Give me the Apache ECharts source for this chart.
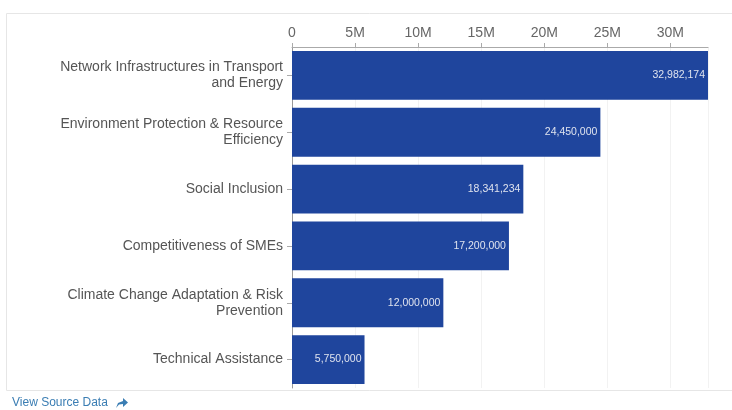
<!DOCTYPE html>
<html>
<head>
<meta charset="utf-8">
<script src="https://cdn.jsdelivr.net/npm/echarts@6/dist/echarts.min.js"></script>
<style>
  html, body { margin: 0; padding: 0; background: #fff; }
  #chart { width: 732px; height: 410px; }
</style>
</head>
<body>
<div id="chart"></div>
<script>
  // data
  const categories = [
    'Network Infrastructures in Transport\nand Energy',
    'Environment Protection & Resource\nEfficiency',
    'Social Inclusion',
    'Competitiveness of SMEs',
    'Climate Change Adaptation & Risk\nPrevention',
    'Technical Assistance'
  ];
  const amounts = [32982174, 24450000, 18341234, 17200000, 12000000, 5750000];

  const BAR = '#1f459d';
  const LABEL = '#555';
  const FONT = 'Liberation Sans, Arial, sans-serif';

  const chart = echarts.init(document.getElementById('chart'));
  chart.setOption({
    animation: false,
    grid: { left: 292, right: 24, top: 47, bottom: 22 },
    xAxis: {
      type: 'value',
      position: 'top',
      min: 0,
      max: 32982174,
      interval: 5000000,
      axisLine: { show: true, lineStyle: { color: '#aaa' } },
      axisTick: { show: true, length: 4, lineStyle: { color: '#aaa' } },
      axisLabel: {
        color: '#666',
        fontSize: 14,
        fontFamily: FONT,
        margin: 7,
        showMaxLabel: false,
        formatter: v => v === 0 ? '0' : (v / 1e6) + 'M'
      },
      splitLine: { show: true, lineStyle: { color: '#f2f2f2' } }
    },
    yAxis: {
      type: 'category',
      inverse: true,
      data: categories,
      axisLine: { show: true, lineStyle: { color: '#999' } },
      axisTick: { show: true, alignWithLabel: true, length: 5, lineStyle: { color: '#aaa' } },
      axisLabel: {
        color: LABEL,
        fontSize: 14,
        fontFamily: FONT,
        margin: 9,
        lineHeight: 16,
        padding: [4, 0, 0, 0],
        align: 'right'
      }
    },
    series: [{
      type: 'bar',
      data: amounts,
      barCategoryGap: '14%',
      itemStyle: { color: BAR },
      label: {
        show: true,
        position: 'insideRight',
        color: '#dfe3ee',
        fontSize: 10.5,
        fontFamily: FONT,
        distance: 3,
        formatter: p => p.value.toLocaleString('en-US')
      }
    }],
    graphic: [
      {
        type: 'rect',
        shape: { x: 6.5, y: 13.5, width: 730, height: 377 },
        style: { fill: 'none', stroke: '#e6e6e6', lineWidth: 1 },
        silent: true
      },
      {
        type: 'text',
        left: 12,
        top: 397,
        style: {
          text: 'View Source Data',
          fill: '#3a7db3',
          font: '12px Liberation Sans, Arial, sans-serif'
        }
      },
      {
        type: 'polygon',
        shape: {
          points: [[116, 408], [118, 403], [123, 401], [123, 398], [128, 402.5], [123, 407], [123, 404], [119, 404.5]]
        },
        style: { fill: '#3a7db3' }
      }
    ]
  });
</script>
</body>
</html>
